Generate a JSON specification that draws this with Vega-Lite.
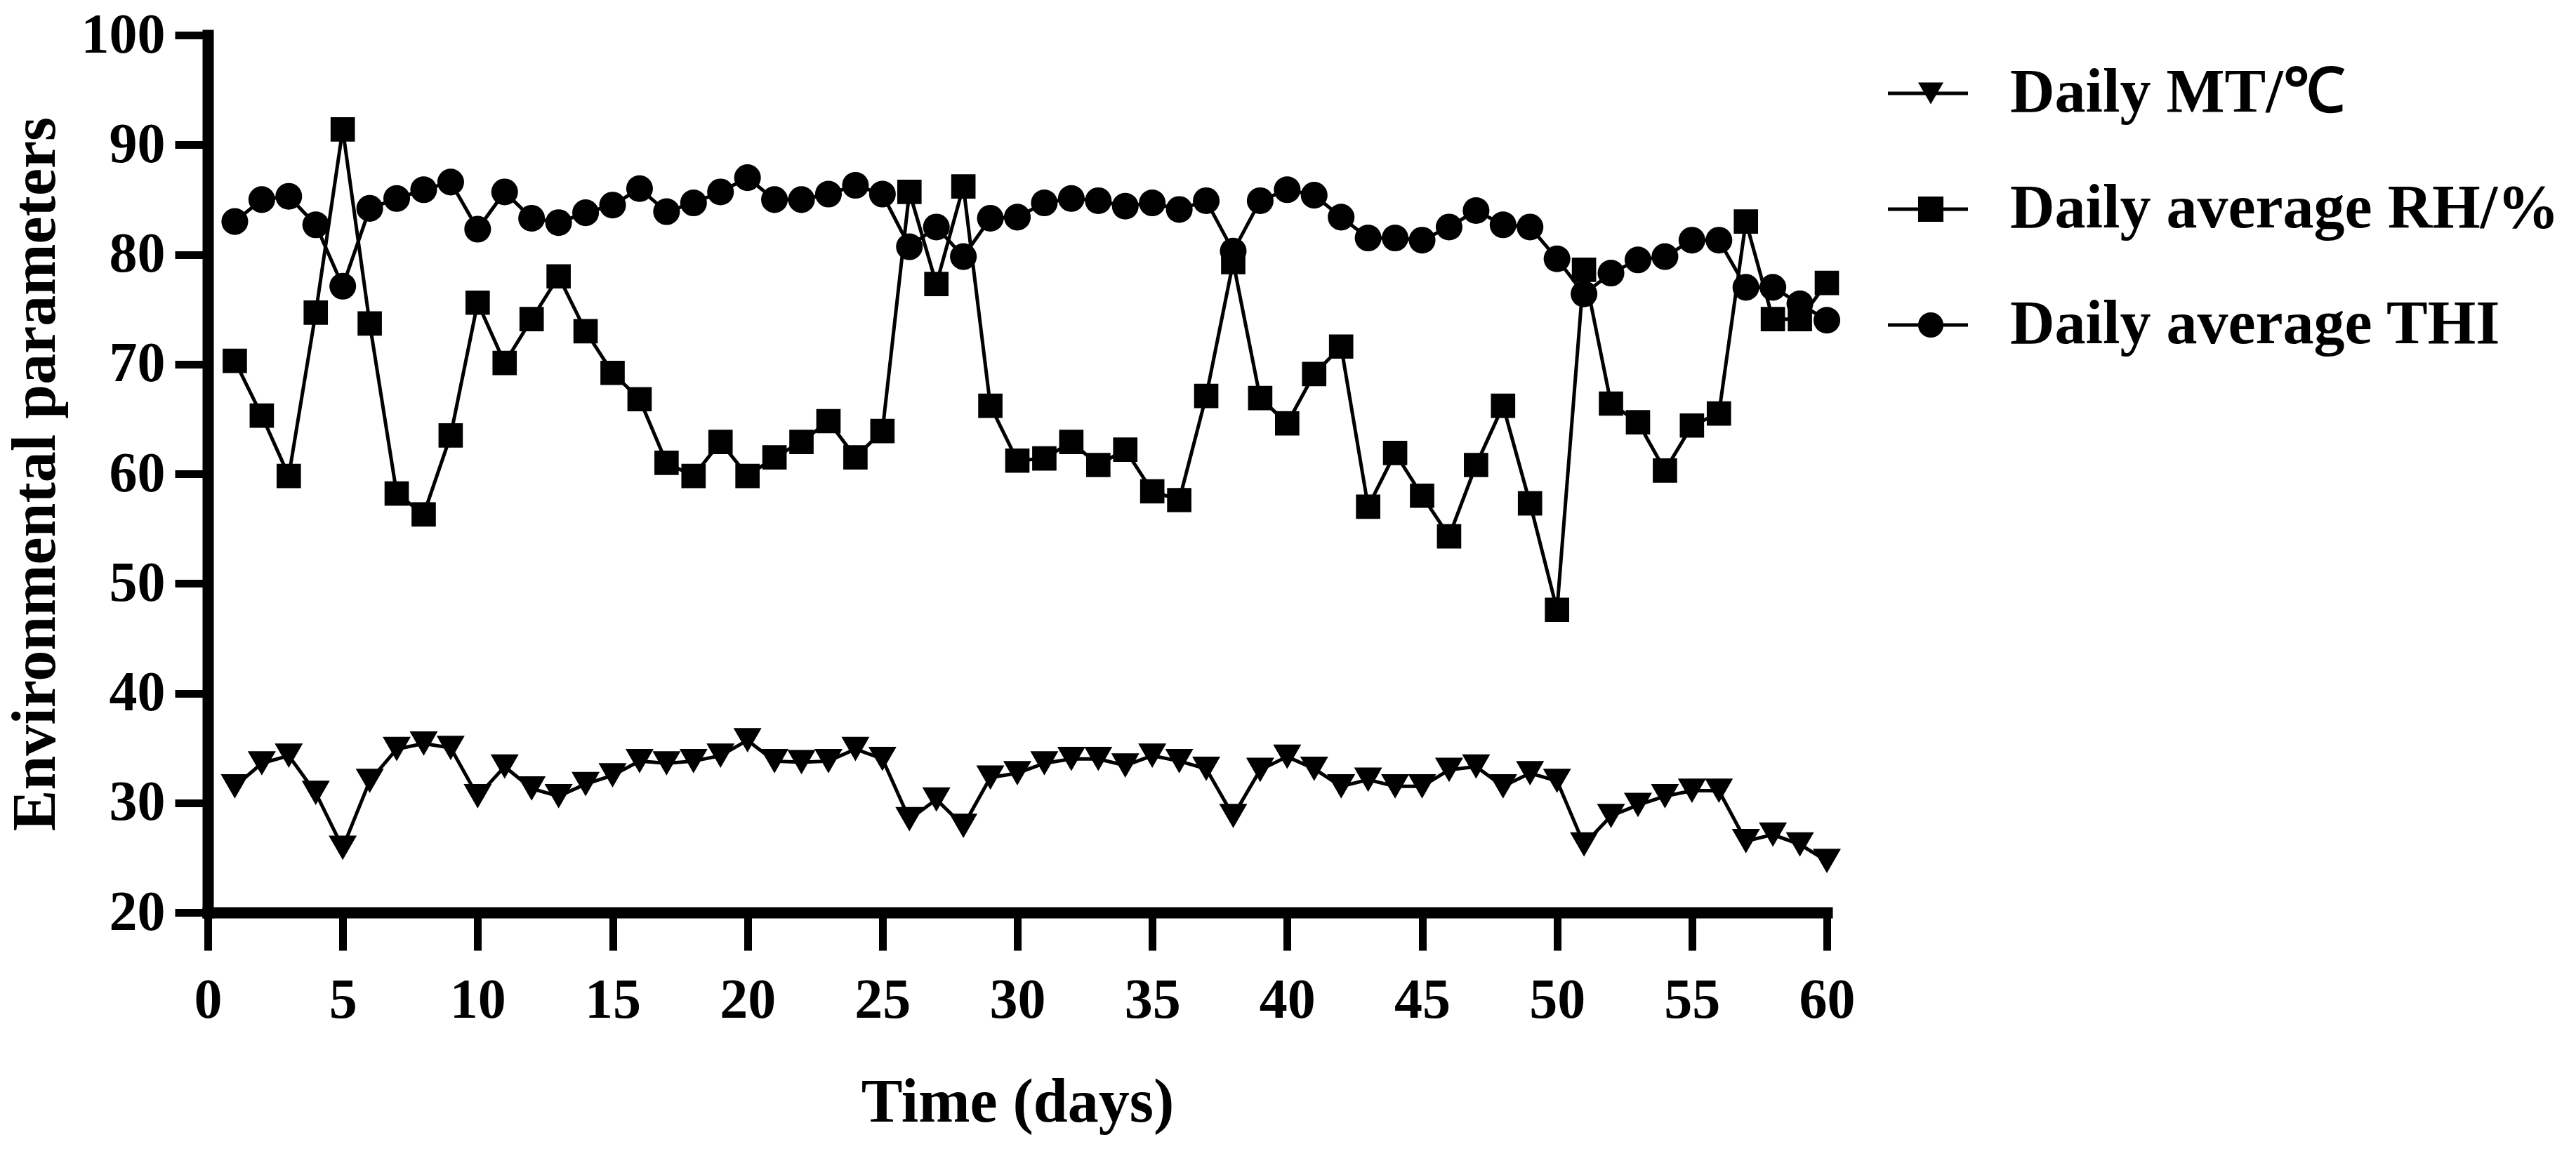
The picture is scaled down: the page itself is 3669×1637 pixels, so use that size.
{
  "$schema": "https://vega.github.io/schema/vega-lite/v6.json",
  "width": 2306,
  "height": 1250,
  "autosize": {"type": "none"},
  "padding": {"left": 296, "top": 50, "right": 1067, "bottom": 337},
  "background": "white",
  "config": {
    "view": {"stroke": null},
    "font": "Liberation Serif",
    "axis": {
      "grid": false,
      "domainColor": "black",
      "domainWidth": 16,
      "domainCap": "square",
      "tickColor": "black",
      "tickWidth": 11,
      "labelColor": "black",
      "labelFont": "Liberation Serif",
      "labelFontWeight": "bold",
      "labelFontSize": 80,
      "titleColor": "black",
      "titleFont": "Liberation Serif",
      "titleFontWeight": "bold",
      "titleFontSize": 88
    },
    "legend": {
      "title": null,
      "orient": "none",
      "padding": 0,
      "rowPadding": 77,
      "labelFont": "Liberation Serif",
      "labelFontWeight": "bold",
      "labelFontSize": 88,
      "labelColor": "black",
      "labelLimit": 0
    }
  },
  "data": {
    "values": [
      {"day": 1, "MT": 31.5, "RH": 70.3, "THI": 83.0},
      {"day": 2, "MT": 33.6, "RH": 65.3, "THI": 85.0},
      {"day": 3, "MT": 34.3, "RH": 59.8, "THI": 85.3},
      {"day": 4, "MT": 30.9, "RH": 74.7, "THI": 82.7},
      {"day": 5, "MT": 25.9, "RH": 91.4, "THI": 77.1},
      {"day": 6, "MT": 32.0, "RH": 73.7, "THI": 84.2},
      {"day": 7, "MT": 34.9, "RH": 58.2, "THI": 85.1},
      {"day": 8, "MT": 35.4, "RH": 56.3, "THI": 85.9},
      {"day": 9, "MT": 35.0, "RH": 63.5, "THI": 86.6},
      {"day": 10, "MT": 30.6, "RH": 75.6, "THI": 82.3},
      {"day": 11, "MT": 33.3, "RH": 70.1, "THI": 85.7},
      {"day": 12, "MT": 31.3, "RH": 74.1, "THI": 83.3},
      {"day": 13, "MT": 30.6, "RH": 78.0, "THI": 82.9},
      {"day": 14, "MT": 31.7, "RH": 73.0, "THI": 83.8},
      {"day": 15, "MT": 32.5, "RH": 69.2, "THI": 84.5},
      {"day": 16, "MT": 33.8, "RH": 66.8, "THI": 86.0},
      {"day": 17, "MT": 33.6, "RH": 61.0, "THI": 83.9},
      {"day": 18, "MT": 33.8, "RH": 59.8, "THI": 84.7},
      {"day": 19, "MT": 34.3, "RH": 62.9, "THI": 85.7},
      {"day": 20, "MT": 35.7, "RH": 59.8, "THI": 87.0},
      {"day": 21, "MT": 33.8, "RH": 61.5, "THI": 85.0},
      {"day": 22, "MT": 33.7, "RH": 62.9, "THI": 85.0},
      {"day": 23, "MT": 33.8, "RH": 64.8, "THI": 85.5},
      {"day": 24, "MT": 34.9, "RH": 61.5, "THI": 86.3},
      {"day": 25, "MT": 34.0, "RH": 63.9, "THI": 85.5},
      {"day": 26, "MT": 28.5, "RH": 85.7, "THI": 80.7},
      {"day": 27, "MT": 30.3, "RH": 77.3, "THI": 82.5},
      {"day": 28, "MT": 27.9, "RH": 86.2, "THI": 79.8},
      {"day": 29, "MT": 32.3, "RH": 66.2, "THI": 83.3},
      {"day": 30, "MT": 32.7, "RH": 61.2, "THI": 83.4},
      {"day": 31, "MT": 33.6, "RH": 61.4, "THI": 84.7},
      {"day": 32, "MT": 34.0, "RH": 62.9, "THI": 85.1},
      {"day": 33, "MT": 34.0, "RH": 60.8, "THI": 84.9},
      {"day": 34, "MT": 33.4, "RH": 62.2, "THI": 84.4},
      {"day": 35, "MT": 34.3, "RH": 58.4, "THI": 84.7},
      {"day": 36, "MT": 33.8, "RH": 57.6, "THI": 84.1},
      {"day": 37, "MT": 33.1, "RH": 67.1, "THI": 84.9},
      {"day": 38, "MT": 28.8, "RH": 79.3, "THI": 80.3},
      {"day": 39, "MT": 33.0, "RH": 66.9, "THI": 84.9},
      {"day": 40, "MT": 34.2, "RH": 64.6, "THI": 85.9},
      {"day": 41, "MT": 33.1, "RH": 69.1, "THI": 85.4},
      {"day": 42, "MT": 31.5, "RH": 71.6, "THI": 83.4},
      {"day": 43, "MT": 32.1, "RH": 57.0, "THI": 81.5},
      {"day": 44, "MT": 31.5, "RH": 61.9, "THI": 81.5},
      {"day": 45, "MT": 31.5, "RH": 58.0, "THI": 81.3},
      {"day": 46, "MT": 33.0, "RH": 54.3, "THI": 82.5},
      {"day": 47, "MT": 33.3, "RH": 60.8, "THI": 84.0},
      {"day": 48, "MT": 31.5, "RH": 66.2, "THI": 82.7},
      {"day": 49, "MT": 32.7, "RH": 57.3, "THI": 82.5},
      {"day": 50, "MT": 32.0, "RH": 47.6, "THI": 79.6},
      {"day": 51, "MT": 26.2, "RH": 78.6, "THI": 76.4},
      {"day": 52, "MT": 28.8, "RH": 66.4, "THI": 78.3},
      {"day": 53, "MT": 29.8, "RH": 64.7, "THI": 79.5},
      {"day": 54, "MT": 30.6, "RH": 60.3, "THI": 79.8},
      {"day": 55, "MT": 31.1, "RH": 64.4, "THI": 81.3},
      {"day": 56, "MT": 31.1, "RH": 65.5, "THI": 81.3},
      {"day": 57, "MT": 26.5, "RH": 83.0, "THI": 77.0},
      {"day": 58, "MT": 27.1, "RH": 74.1, "THI": 77.0},
      {"day": 59, "MT": 26.2, "RH": 74.1, "THI": 75.5},
      {"day": 60, "MT": 24.7, "RH": 77.4, "THI": 74.0}
    ]
  },
  "transform": [
    {"fold": ["MT", "RH", "THI"], "as": ["series", "value"]}
  ],
  "encoding": {
    "x": {
      "field": "day",
      "type": "quantitative",
      "scale": {"domain": [0, 60], "nice": false, "zero": false},
      "axis": {
        "title": "Time (days)",
        "values": [0, 5, 10, 15, 20, 25, 30, 35, 40, 45, 50, 55, 60],
        "tickSize": 54,
        "labelPadding": 32,
        "titlePadding": 62,
        "labelFlush": false,
        "labelOverlap": false
      }
    },
    "y": {
      "field": "value",
      "type": "quantitative",
      "scale": {"domain": [20, 100], "nice": false, "zero": false},
      "axis": {
        "title": "Environmental parameters",
        "values": [20, 30, 40, 50, 60, 70, 80, 90, 100],
        "tickSize": 47,
        "labelPadding": 14,
        "titlePadding": 20,
        "titleFontSize": 88,
        "labelFlush": false,
        "labelOverlap": false
      }
    }
  },
  "layer": [
    {
      "mark": {"type": "line", "strokeWidth": 5},
      "encoding": {
        "color": {
          "field": "series",
          "type": "nominal",
          "scale": {"domain": ["MT", "RH", "THI"], "range": ["black", "black", "black"]},
          "legend": {
            "legendX": 2406,
            "legendY": 39,
            "symbolType": "M-2.85,0H2.85",
            "symbolSize": 1600,
            "symbolStrokeWidth": 5,
            "symbolStrokeColor": "black",
            "labelOffset": 60,
            "labelExpr": "''"
          }
        }
      }
    },
    {
      "mark": {"type": "point", "filled": true, "opacity": 1, "color": "black"},
      "encoding": {
        "detail": {"field": "series"},
        "shape": {
          "field": "series",
          "type": "nominal",
          "scale": {"range": ["triangle-down", "square", "circle"]},
          "legend": {
            "legendX": 2410,
            "legendY": 39,
            "symbolSize": 1300,
            "symbolFillColor": "black",
            "symbolStrokeWidth": 0,
            "symbolOpacity": 1,
            "labelOffset": 69,
            "labelExpr": "datum.value == 'MT' ? 'Daily MT/℃' : datum.value == 'RH' ? 'Daily average RH/%' : 'Daily average THI'"
          }
        },
        "size": {
          "condition": [
            {"test": "datum.series == 'MT'", "value": 1600},
            {"test": "datum.series == 'RH'", "value": 1200}
          ],
          "value": 1450
        }
      }
    }
  ]
}
